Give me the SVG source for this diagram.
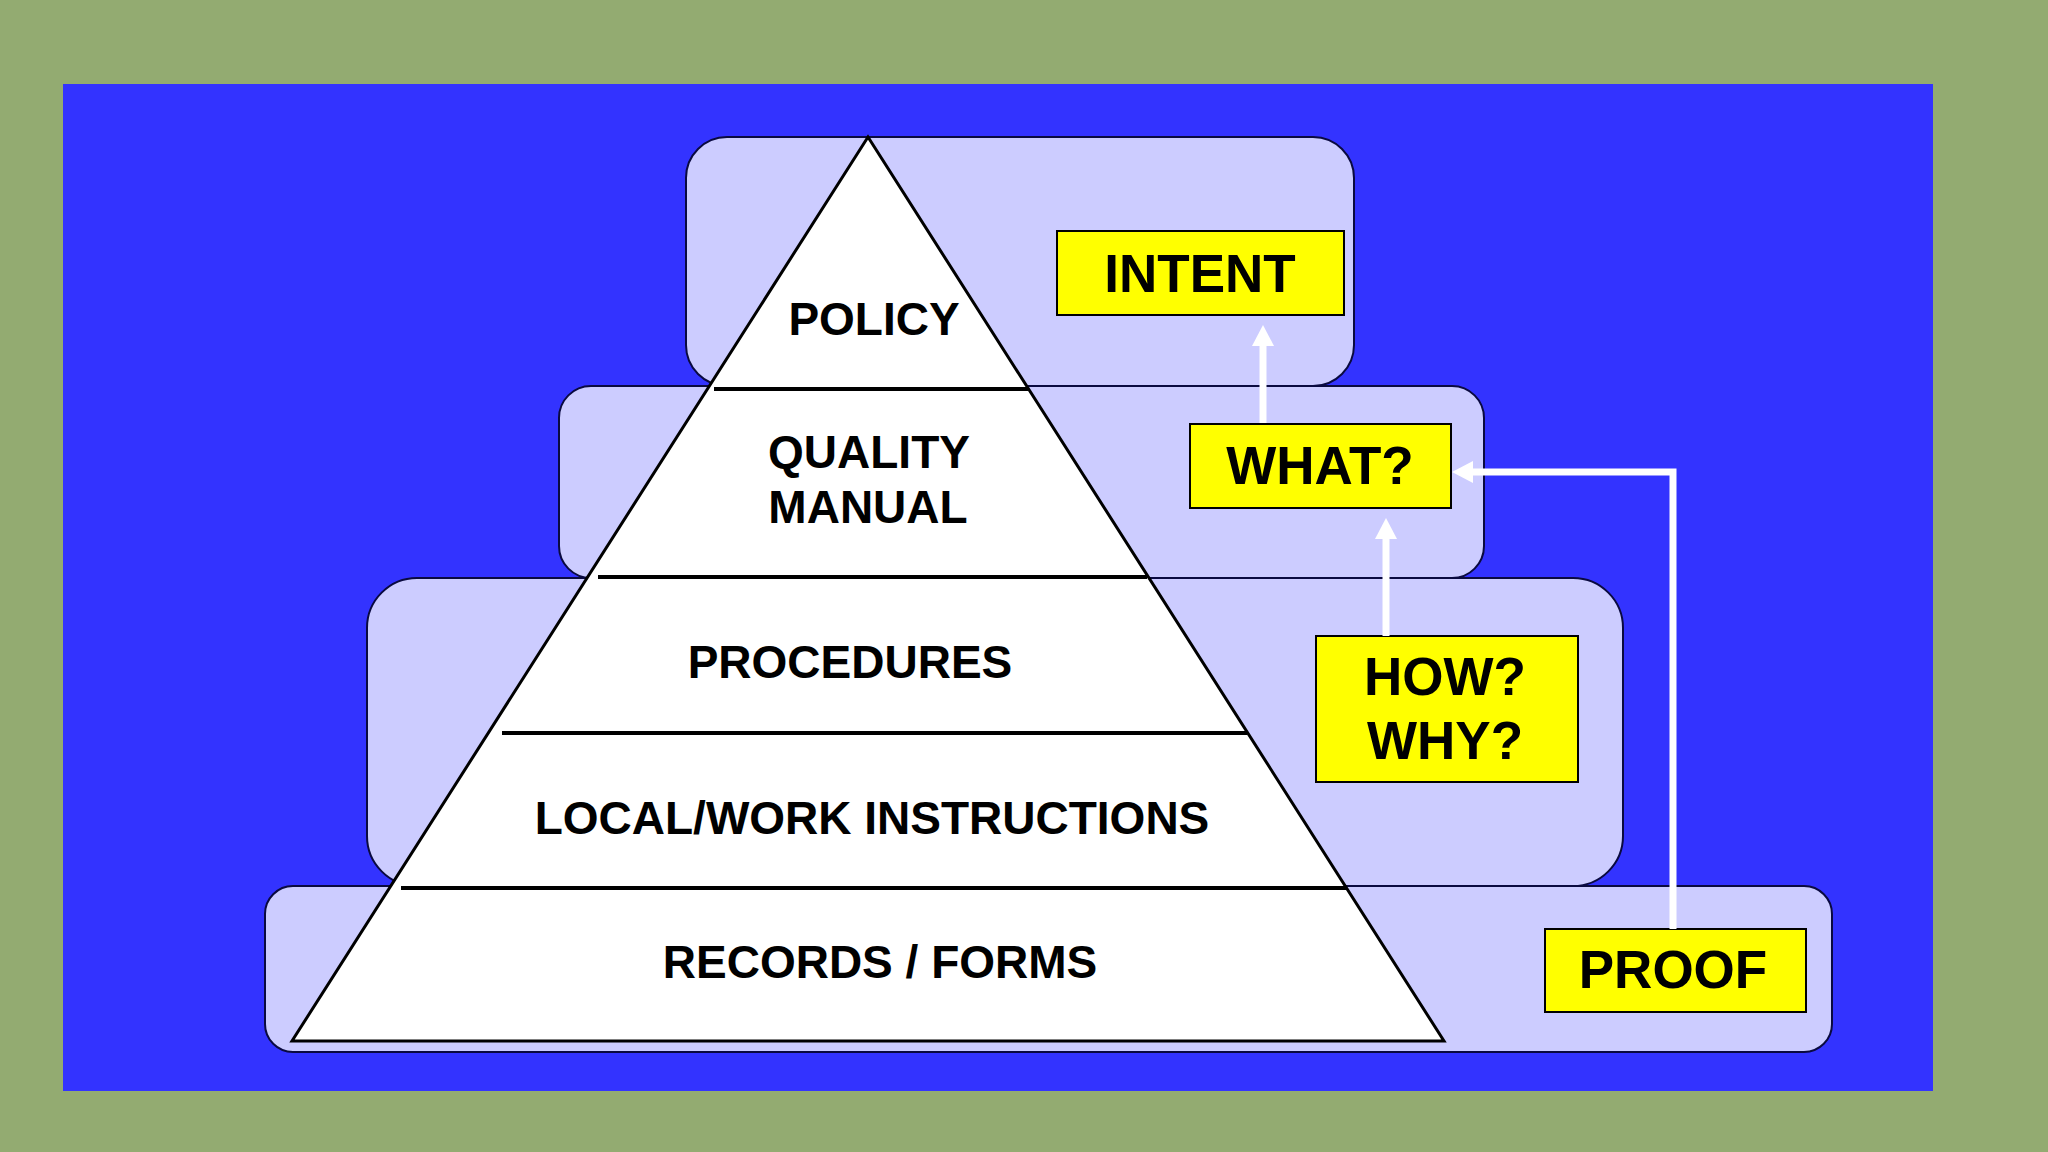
<svg xmlns="http://www.w3.org/2000/svg" width="2048" height="1152" viewBox="0 0 2048 1152">
  <style>
    .tier { fill: #CCCCFF; stroke: #0A0A40; stroke-width: 2; }
    .label { font-family: "Liberation Sans", Arial, sans-serif; font-weight: bold; fill: #000000; text-anchor: middle; }
    .plabel { font-size: 46px; }
    .blabel { font-size: 53px; }
    .ybox { fill: #FFFF00; stroke: #000000; stroke-width: 2; }
    .divider { stroke: #000000; stroke-width: 4; }
    .conn { fill: none; stroke: #FFFFFF; stroke-width: 7; }
  </style>
  <defs>
    <marker id="head" markerUnits="userSpaceOnUse" markerWidth="22" markerHeight="22" refX="0" refY="11" orient="auto">
      <path d="M0,0 L21,11 L0,22 Z" fill="#FFFFFF"/>
    </marker>
  </defs>

  <rect x="0" y="0" width="2048" height="1152" fill="#93AB71"/>
  <rect x="63" y="84" width="1870" height="1007" fill="#3333FF"/>

  <g id="tiers">
    <rect id="tier-records" class="tier" x="265" y="886" width="1567" height="166" rx="28" ry="28"/>
    <rect id="tier-procedures" class="tier" x="367" y="578" width="1256" height="308" rx="50" ry="50"/>
    <rect id="tier-manual" class="tier" x="559" y="386" width="925" height="192" rx="32" ry="32"/>
    <rect id="tier-policy" class="tier" x="686" y="137" width="668" height="249" rx="41" ry="41"/>
  </g>

  <g id="pyramid">
    <polygon points="868,137 292,1041 1444,1041" fill="#FFFFFF" stroke="#000000" stroke-width="3" stroke-linejoin="miter"/>
    <line class="divider" x1="714" y1="389" x2="1028" y2="389"/>
    <line class="divider" x1="598" y1="577" x2="1147" y2="577"/>
    <line class="divider" x1="502" y1="733" x2="1247" y2="733"/>
    <line class="divider" x1="401" y1="888" x2="1346" y2="888"/>
  </g>

  <g id="policy"><text class="label plabel" x="874" y="335">POLICY</text></g>
  <g id="quality-manual">
    <text class="label plabel" x="869" y="468">QUALITY</text>
    <text class="label plabel" x="868" y="523">MANUAL</text>
  </g>
  <g id="procedures"><text class="label plabel" x="850" y="678">PROCEDURES</text></g>
  <g id="local-work"><text class="label plabel" x="872" y="834">LOCAL/WORK INSTRUCTIONS</text></g>
  <g id="records"><text class="label plabel" x="880" y="978">RECORDS / FORMS</text></g>

  <g id="intent">
    <rect class="ybox" x="1057" y="231" width="287" height="84"/>
    <text class="label blabel" x="1200" y="292">INTENT</text>
  </g>
  <g id="what">
    <rect class="ybox" x="1190" y="424" width="261" height="84"/>
    <text class="label blabel" x="1320" y="484">WHAT?</text>
  </g>
  <g id="how-why">
    <rect class="ybox" x="1316" y="636" width="262" height="146"/>
    <text class="label blabel" x="1445" y="695">HOW?</text>
    <text class="label blabel" x="1445" y="759">WHY?</text>
  </g>
  <g id="proof">
    <rect class="ybox" x="1545" y="929" width="261" height="83"/>
    <text class="label blabel" x="1673" y="988">PROOF</text>
  </g>

  <g id="connectors">
    <path class="conn" d="M1263,423 L1263,346" marker-end="url(#head)"/>
    <path class="conn" d="M1386,636 L1386,539" marker-end="url(#head)"/>
    <path class="conn" d="M1673,929 L1673,472 L1473,472" marker-end="url(#head)"/>
  </g>
</svg>
